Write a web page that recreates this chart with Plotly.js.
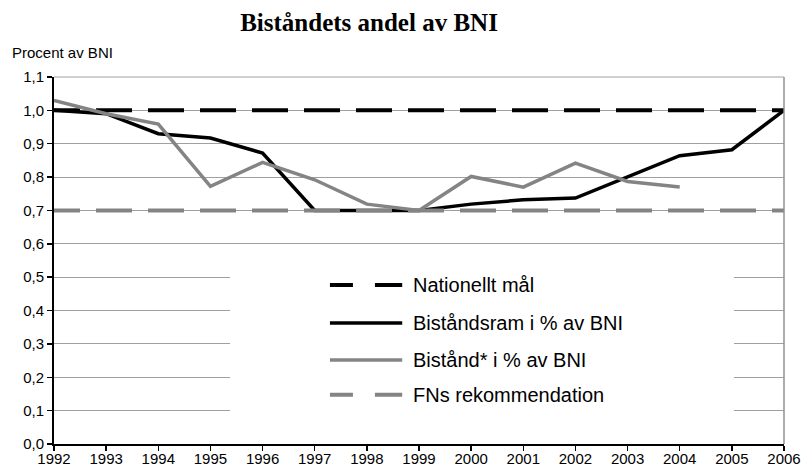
<!DOCTYPE html>
<html>
<head>
<meta charset="utf-8">
<script src="https://cdn.plot.ly/plotly-3.0.1.min.js"></script>
<style>html,body{margin:0;padding:0;background:#fff;}#chart{width:804px;height:471px;}</style>
</head>
<body>
<div id="chart"></div>
<script>
// ---- Data ----
const years = [1992,1993,1994,1995,1996,1997,1998,1999,2000,2001,2002,2003,2004,2005,2006];
const nationelltMal = [1.0,1.0,1.0,1.0,1.0,1.0,1.0,1.0,1.0,1.0,1.0,1.0,1.0,1.0,1.0];
const bistandsram = [1.0,0.99,0.93,0.917,0.872,0.70,0.70,0.70,0.719,0.732,0.737,0.80,0.864,0.882,1.0];
const bistandYears = [1992,1993,1994,1995,1996,1997,1998,1999,2000,2001,2002,2003,2004];
const bistand = [1.03,0.99,0.959,0.772,0.844,0.792,0.719,0.70,0.802,0.770,0.842,0.787,0.770];
const fnRekommendation = [0.7,0.7,0.7,0.7,0.7,0.7,0.7,0.7,0.7,0.7,0.7,0.7,0.7,0.7,0.7];
const seriesNames = ['Nationellt mål','Biståndsram i % av BNI','Bistånd* i % av BNI','FNs rekommendation'];
const titleText = 'Biståndets andel av BNI';
const yTitleText = 'Procent av BNI';

// ---- Styles ----
const GRAY = '#848484';
let dashParts = ['26px','16px'];
for (let i = 0; i < 15; i++) dashParts.push('36px','16px');
const plotDash = dashParts.join(',');
const legendDash = '23px,22px,30px,22px';

const styles = [
  {color:'#000000', width:4, dash:plotDash},
  {color:'#000000', width:3.5, dash:'solid'},
  {color:GRAY, width:3.5, dash:'solid'},
  {color:GRAY, width:4, dash:plotDash}
];
const legendStyles = [
  {color:'#000000', width:4, dash:legendDash},
  {color:'#000000', width:3.5, dash:'solid'},
  {color:GRAY, width:3.5, dash:'solid'},
  {color:GRAY, width:4, dash:legendDash}
];

const traces = [
  {x:years, y:nationelltMal, name:seriesNames[0], mode:'lines', line:styles[0]},
  {x:years, y:bistandsram, name:seriesNames[1], mode:'lines', line:styles[1]},
  {x:bistandYears, y:bistand, name:seriesNames[2], mode:'lines', line:styles[2]},
  {x:years, y:fnRekommendation, name:seriesNames[3], mode:'lines', line:styles[3]}
];

// custom legend geometry (paper coords)
const legRowsY = [0.433, 0.330, 0.229, 0.134];
const legX0 = 0.378, legX1 = 0.477, legTextX = 0.489;

const shapes = [
  // white legend background covering gridlines
  {type:'rect', xref:'paper', yref:'paper', x0:0.2411, x1:0.9315, y0:0.04, y1:0.49,
   fillcolor:'#ffffff', line:{width:0}, layer:'above'},
  // right and top border
  {type:'line', xref:'paper', yref:'paper', x0:1, x1:1, y0:0, y1:1, line:{color:'#909090', width:1.5}},
  {type:'line', xref:'paper', yref:'paper', x0:0, x1:1, y0:1, y1:1, line:{color:'#a0a0a0', width:1}}
];
const annotations = [
  {text:yTitleText, xref:'paper', yref:'paper', x:-0.0603, y:1.0654, xanchor:'left', yanchor:'middle',
   showarrow:false, font:{family:'Liberation Sans, Arial, sans-serif', size:15, color:'#000'}}
];
seriesNames.forEach((n, i) => {
  shapes.push({type:'line', xref:'paper', yref:'paper', x0:legX0, x1:legX1, y0:legRowsY[i], y1:legRowsY[i],
    line:legendStyles[i], layer:'above'});
  annotations.push({text:n, xref:'paper', yref:'paper', x:legTextX, y:legRowsY[i], xanchor:'left', yanchor:'middle',
    showarrow:false, font:{family:'Liberation Sans, Arial, sans-serif', size:20, color:'#000'}});
});

const layout = {
  width:804, height:471,
  margin:{l:54, r:20, t:77, b:27, pad:0},
  paper_bgcolor:'#ffffff', plot_bgcolor:'#ffffff',
  separators:', ',
  showlegend:false,
  font:{family:'Liberation Sans, Arial, sans-serif', size:15, color:'#000'},
  title:{text:'<b>'+titleText+'</b>', x:0.459, xanchor:'center', xref:'container',
         y:0.953, yanchor:'middle', yref:'container',
         font:{family:'Liberation Serif, Times New Roman, serif', size:25, color:'#000'}},
  xaxis:{range:[1992,2006], tickmode:'linear', tick0:1992, dtick:1, showgrid:false, zeroline:false,
         showline:true, linecolor:'#000', linewidth:2, ticks:'outside', ticklen:5, tickwidth:1.5, tickcolor:'#000',
         tickfont:{size:15}, ticklabelstandoff:-5, fixedrange:true},
  yaxis:{range:[0,1.1], tickmode:'linear', tick0:0, dtick:0.1, tickformat:'.1f', showgrid:true,
         gridcolor:'#a0a0a0', gridwidth:1, zeroline:false,
         showline:true, linecolor:'#000', linewidth:2, ticks:'outside', ticklen:5, tickwidth:1.5, tickcolor:'#000',
         tickfont:{size:15}, fixedrange:true},
  shapes:shapes,
  annotations:annotations
};

Plotly.newPlot('chart', traces, layout, {displayModeBar:false, staticPlot:true});
</script>
</body>
</html>
